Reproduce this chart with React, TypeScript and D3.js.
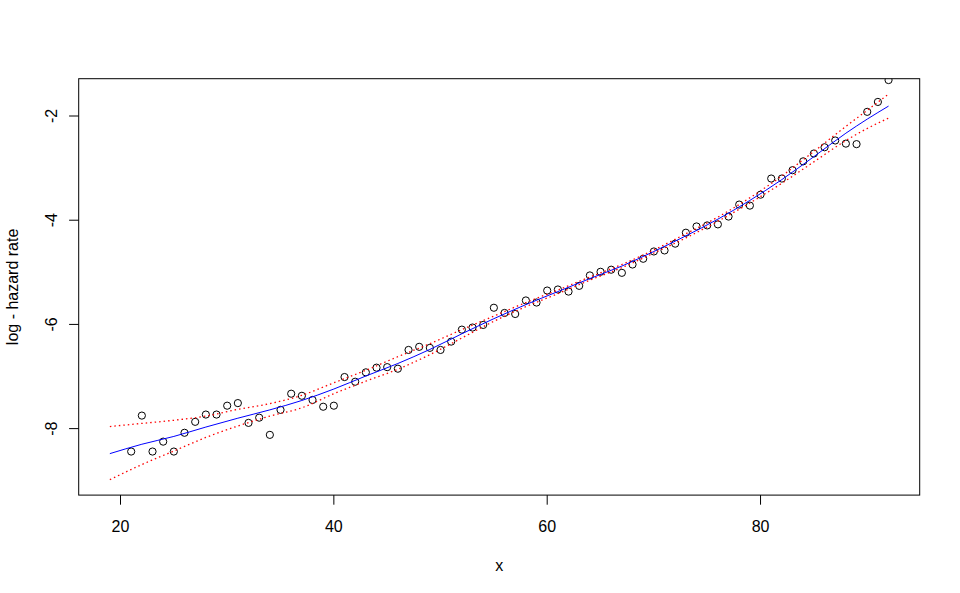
import React from "react";
import * as d3 from "d3";

// observed log-hazard rates by age
const ages = [21,22,23,24,25,26,27,28,29,30,31,32,33,34,35,36,37,38,39,40,41,42,43,44,45,46,47,48,49,50,51,52,53,54,55,56,57,58,59,60,61,62,63,64,65,66,67,68,69,70,71,72,73,74,75,76,77,78,79,80,81,82,83,84,85,86,87,88,89,90,91,92];
const logHazard = [-8.44,-7.75,-8.44,-8.25,-8.44,-8.08,-7.87,-7.73,-7.73,-7.56,-7.51,-7.89,-7.79,-8.12,-7.64,-7.33,-7.37,-7.45,-7.58,-7.56,-7.01,-7.10,-6.92,-6.83,-6.82,-6.85,-6.49,-6.43,-6.45,-6.49,-6.33,-6.10,-6.06,-6.01,-5.68,-5.78,-5.80,-5.54,-5.58,-5.35,-5.33,-5.37,-5.26,-5.06,-4.99,-4.95,-5.01,-4.85,-4.74,-4.60,-4.58,-4.45,-4.24,-4.12,-4.10,-4.08,-3.93,-3.70,-3.72,-3.51,-3.20,-3.20,-3.04,-2.87,-2.72,-2.60,-2.47,-2.53,-2.54,-1.92,-1.73,-1.31];

// smooth fit and confidence band
const gridX = [19,22,25,28,31,34,37,40,43,46,49,52,55,58,61,64,67,70,73,76,79,82,85,88,90,92];
const fitY = [-8.48,-8.30,-8.15,-7.97,-7.80,-7.64,-7.46,-7.24,-6.99,-6.75,-6.48,-6.18,-5.89,-5.62,-5.37,-5.12,-4.88,-4.60,-4.30,-3.98,-3.62,-3.22,-2.78,-2.33,-2.06,-1.81];
const upperY = [-7.96,-7.90,-7.84,-7.76,-7.63,-7.52,-7.36,-7.12,-6.88,-6.62,-6.37,-6.10,-5.84,-5.58,-5.34,-5.09,-4.85,-4.57,-4.26,-3.94,-3.57,-3.15,-2.68,-2.20,-1.89,-1.58];
const lowerY = [-8.98,-8.69,-8.43,-8.17,-7.95,-7.76,-7.60,-7.33,-7.09,-6.86,-6.58,-6.26,-5.94,-5.66,-5.41,-5.15,-4.91,-4.63,-4.34,-4.02,-3.67,-3.29,-2.88,-2.47,-2.24,-2.04];

const xTicks = [20, 40, 60, 80];
const yTicks = [-2, -4, -6, -8];

const W = 960, H = 593;
const L = 78.7, R = 919.7, T = 78.7, B = 495.1;
const FONT = "'Liberation Sans', Arial, sans-serif";

function ext(lo: number, hi: number): [number, number] {
  const d = (hi - lo) * 0.04;
  return [lo - d, hi + d];
}

export default function App() {
  const xDom = ext(d3.min(gridX)!, d3.max(gridX)!);
  const yDom = ext(d3.min(lowerY)!, d3.max(upperY)!);
  const x = d3.scaleLinear().domain(xDom).range([L, R]);
  const y = d3.scaleLinear().domain(yDom).range([B, T]);

  const line = d3
    .line<[number, number]>()
    .x((d) => x(d[0]))
    .y((d) => y(d[1]))
    .curve(d3.curveMonotoneX);

  const fitPath = line(gridX.map((g, i) => [g, fitY[i]]))!;
  const upPath = line(gridX.map((g, i) => [g, upperY[i]]))!;
  const loPath = line(gridX.map((g, i) => [g, lowerY[i]]))!;

  return (
    <svg
      width={W}
      height={H}
      style={{ position: "absolute", left: 0, top: 0, background: "#fff" }}
      fontFamily={FONT}
    >
      <defs>
        <clipPath id="plotclip">
          <rect x={L} y={T} width={R - L} height={B - T} />
        </clipPath>
      </defs>
      <rect x={0} y={0} width={W} height={H} fill="#fff" />
      <g clipPath="url(#plotclip)">
        {ages.map((a, i) => (
          <circle key={a} cx={x(a)} cy={y(logHazard[i])} r={3.6} fill="none" stroke="#000" strokeWidth={1} />
        ))}
        <path d={fitPath} fill="none" stroke="#0000ff" strokeWidth={1} />
        <path d={upPath} fill="none" stroke="#ff0000" strokeWidth={1.3} strokeDasharray="1.5 3" />
        <path d={loPath} fill="none" stroke="#ff0000" strokeWidth={1.3} strokeDasharray="1.5 3" />
      </g>
      <rect x={L} y={T} width={R - L} height={B - T} fill="none" stroke="#000" strokeWidth={1} />
      {/* x axis */}
      {xTicks.map((t) => (
        <g key={t}>
          <line x1={x(t)} x2={x(t)} y1={B} y2={B + 9.6} stroke="#000" />
          <text x={x(t)} y={532} textAnchor="middle" fontSize={16}>{t}</text>
        </g>
      ))}
      <text x={(L + R) / 2} y={571} textAnchor="middle" fontSize={16}>x</text>
      {/* y axis */}
      {yTicks.map((t) => (
        <g key={t}>
          <line x1={L - 9.6} x2={L} y1={y(t)} y2={y(t)} stroke="#000" />
          <text transform={`translate(57,${y(t)}) rotate(-90)`} textAnchor="middle" fontSize={16}>{t}</text>
        </g>
      ))}
      <text transform={`translate(18,${(T + B) / 2}) rotate(-90)`} textAnchor="middle" fontSize={16}>log - hazard rate</text>
    </svg>
  );
}
